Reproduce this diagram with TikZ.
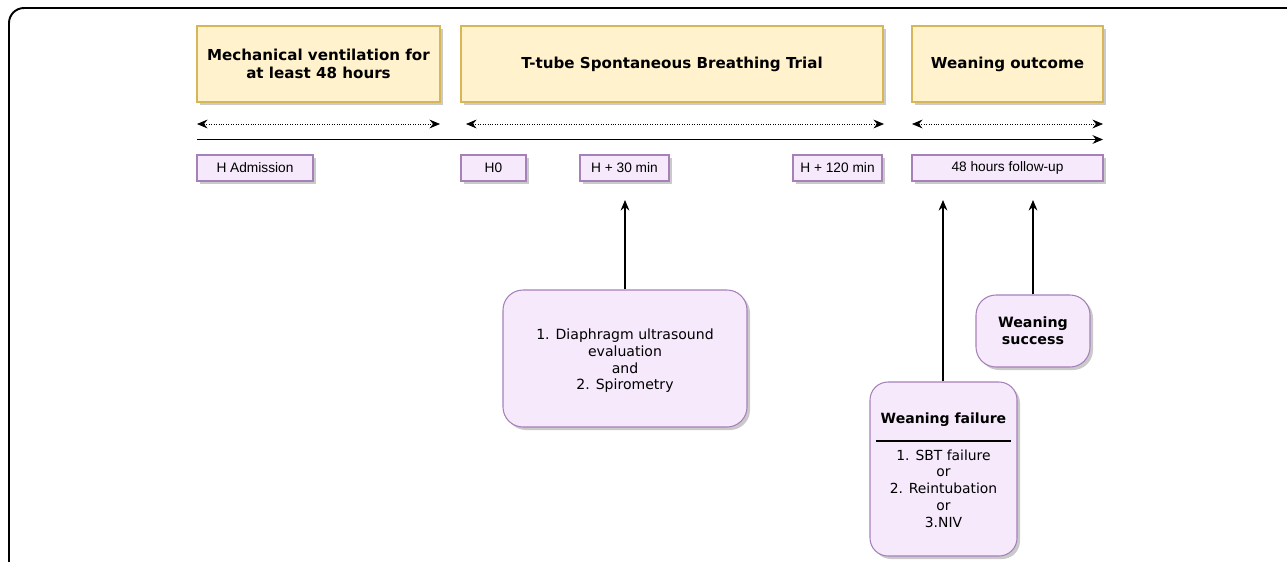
\documentclass[tikz,border=0pt]{standalone}
\usepackage{fontspec}
\setmainfont{DejaVu Sans}
\newfontfamily\arialfont{Liberation Sans}
\usepackage{tikz}
\usetikzlibrary{arrows.meta}
\usetikzlibrary{shadows}

\definecolor{phasefill}{HTML}{FFF2CC}
\definecolor{phasedraw}{HTML}{D6B656}
\definecolor{markfill}{HTML}{F6E9FB}
\definecolor{markdraw}{HTML}{A680B8}

\tikzset{
  boxshadow/.style={drop shadow={shadow xshift=0.06cm, shadow yshift=-0.06cm, fill=black!35, opacity=0.6}},
  phase/.style={shape=rectangle, draw=phasedraw, fill=phasefill, line width=0.6pt, minimum height=1.52cm, align=center, font=\fontsize{8.6}{10.3}\selectfont\bfseries, boxshadow},
  hmark/.style={shape=rectangle, draw=markdraw, fill=markfill, line width=0.6pt, minimum height=0.52cm, inner sep=0pt, font=\arialfont\fontsize{7.8}{9}\selectfont, boxshadow},
  event/.style={shape=rectangle, rounded corners=0.4cm, draw=markdraw, fill=markfill, line width=0.6pt, align=center, font=\fontsize{8}{9.5}\selectfont, boxshadow},
  tip/.tip={Stealth[length=6pt, width=5pt, inset=2pt]},
  span/.style={densely dotted, thin, tip-tip},
  upline/.style={-tip, line width=0.6pt}
}

\begin{document}
\begin{tikzpicture}
    	\useasboundingbox (0,0) rectangle (25.74,-11.22);
    	\clip (0,0) rectangle (25.74,-11.22);
    	% frame
    	\draw[line width=1.1pt, rounded corners=0.3cm] (0.18,-11.6) -- (0.18,-0.16) -- (26.2,-0.16);
    	% Phases:
    	\node[phase, minimum width=4.86cm](P1) at (6.37, -1.28){Mechanical ventilation for\\at least 48 hours};
    	\node[phase, minimum width=8.44cm](P2) at (13.44, -1.28){T-tube Spontaneous Breathing Trial};
    	\node[phase, minimum width=3.82cm](P3) at (20.15, -1.28){Weaning outcome};
    	\coordinate (S1a) at (3.94, -2.48);
    	\coordinate (S1b) at (8.80, -2.48);
    	\draw[span] (S1a) -- (S1b);
    	\coordinate (S2a) at (9.32, -2.48);
    	\coordinate (S2b) at (17.68, -2.48);
    	\draw[span] (S2a) -- (S2b);
    	\coordinate (S3a) at (18.24, -2.48);
    	\coordinate (S3b) at (22.06, -2.48);
    	\draw[span] (S3a) -- (S3b);
    	% time line
    	\coordinate (T0) at (3.94, -2.79);
    	\coordinate (T1) at (22.06, -2.79);
    	\draw[upline] (T0) -- (T1);
    	% Time marks:
    	\node[hmark, minimum width=2.32cm](HA) at (5.10, -3.36){H Admission};
    	\node[hmark, minimum width=1.30cm](H0) at (9.87, -3.36){H0};
    	\node[hmark, minimum width=1.78cm](H30) at (12.49, -3.36){H + 30 min};
    	\node[hmark, minimum width=1.78cm](H120) at (16.75, -3.36){H + 120 min};
    	\node[hmark, minimum width=3.82cm](H48) at (20.15, -3.36){48 hours follow-up};
    	% Events:
    	\node[event, minimum width=4.88cm, minimum height=2.74cm](Diag) at (12.5, -7.17){};
    	\node[align=center, font=\fontsize{8}{9.5}\selectfont](DiagT) at (12.5, -7.22){1. Diaphragm ultrasound\\evaluation\\and\\2. Spirometry};
    	\node[event, minimum width=2.28cm, minimum height=1.44cm, font=\fontsize{8.1}{9.8}\selectfont\bfseries](Succ) at (20.66, -6.62){Weaning\\success};
    	\node[event, minimum width=2.94cm, minimum height=3.48cm, rounded corners=0.36cm](Fail) at (18.87, -9.38){};
    	\node[font=\fontsize{8}{9.6}\selectfont\bfseries](FailT) at (18.87, -8.40){Weaning failure};
    	\draw[line width=0.6pt] (17.52, -8.82) -- (20.22, -8.82);
    	\node[align=center, font=\fontsize{7.9}{9.5}\selectfont](FailL) at (18.87, -9.77){1. SBT failure\\or\\2. Reintubation\\or\\3.NIV};
    	% arrows to the marks
    	\coordinate (A1) at (12.5, -4.0);
    	\coordinate (A2) at (18.86, -4.0);
    	\coordinate (A3) at (20.66, -4.0);
    	\draw[upline] (Diag.north) -- (A1);
    	\draw[upline] (Fail.north -| A2) -- (A2);
    	\draw[upline] (Succ.north) -- (A3);
\end{tikzpicture}
\end{document}
